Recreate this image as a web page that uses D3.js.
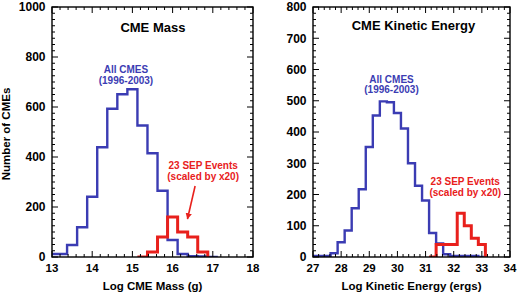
<!DOCTYPE html>
<html>
<head>
<meta charset="utf-8">
<script src="https://cdn.jsdelivr.net/npm/d3@7"></script>
<style>
    body { margin: 0; background: #fff; }
    svg text { font-family: "Liberation Sans", Arial, sans-serif; font-weight: bold; }
</style>
</head>
<body>
<div class="chart"></div>
<script>
// histogram bin centres (bin width 0.25) and counts
var massAllBins = [13.0, 13.25, 13.5, 13.75, 14.0, 14.25, 14.5, 14.75, 15.0, 15.25, 15.5, 15.75, 16.0, 16.25, 16.5, 16.75, 17.0];
var massAll     = [12, 12, 48, 119, 241, 439, 593, 651, 671, 526, 415, 265, 68, 12, 3, 2, 0];
var massSepBins = [15.25, 15.5, 15.75, 16.0, 16.25, 16.5, 16.75];
var massSep     = [0, 20, 80, 160, 100, 80, 20];

var energyAllBins = [27.0, 27.25, 27.5, 27.75, 28.0, 28.25, 28.5, 28.75, 29.0, 29.25, 29.5, 29.75, 30.0, 30.25, 30.5, 30.75, 31.0, 31.25, 31.5, 31.75, 32.0, 32.25, 32.5, 32.75, 33.0];
var energyAll     = [3, 3, 3, 12, 47, 85, 156, 217, 352, 453, 498, 495, 461, 411, 300, 228, 181, 77, 43, 9, 3, 3, 3, 3, 0];
var energySepBins = [31.25, 31.5, 31.75, 32.0, 32.25, 32.5, 32.75, 33.0];
var energySep     = [0, 40, 40, 40, 140, 100, 60, 40];

var massTicks = [13, 14, 15, 16, 17, 18];
var massCountTicks = [0, 200, 400, 600, 800, 1000];
var energyTicks = [27, 28, 29, 30, 31, 32, 33, 34];
var energyCountTicks = [0, 100, 200, 300, 400, 500, 600, 700, 800];

var binWidth = 0.25;
var blue = "#3b3cb3", red = "#e8201c";

var svg = d3.select(".chart")
    .append("svg")
    .attr("width", 520)
    .attr("height", 296);

svg.append("defs")
    .append("marker")
    .attr("id", "arrowhead")
    .attr("viewBox", "0 0 10 10")
    .attr("refX", 9)
    .attr("refY", 5)
    .attr("markerWidth", 4)
    .attr("markerHeight", 4)
    .attr("orient", "auto")
    .append("path")
    .attr("d", "M0,0L10,5L0,10z")
    .style("fill", red);

function panel(opt){
    var x = d3.scaleLinear().domain(opt.xDomain).range(opt.xRange);
    var y = d3.scaleLinear().domain(opt.yDomain).range([257, 7]);
    var g = svg.append("g");

    g.append("clipPath")
        .attr("id", opt.id)
        .append("rect")
        .attr("x", opt.xRange[0])
        .attr("y", 7)
        .attr("width", opt.xRange[1] - opt.xRange[0])
        .attr("height", 250);

    function stepPoints(bins, vals, dropToZero){
        var pts = bins.map(function(b, i){ return [b - binWidth/2, vals[i]]; });
        var last = bins.length - 1;
        pts.push([bins[last] + binWidth/2, vals[last]]);
        if(dropToZero) pts.push([bins[last] + binWidth/2, 0]);
        return pts;
    }

    var line = d3.line()
        .x(function(d){ return x(d[0]); })
        .y(function(d){ return y(d[1]); })
        .curve(d3.curveStepAfter);

    g.append("path")
        .attr("clip-path", "url(#" + opt.id + ")")
        .attr("d", line(stepPoints(opt.allBins, opt.all, false)))
        .style("fill", "none")
        .style("stroke", blue)
        .style("stroke-width", 2.4);

    g.append("path")
        .attr("clip-path", "url(#" + opt.id + ")")
        .attr("d", line(stepPoints(opt.sepBins, opt.sep, true)))
        .style("fill", "none")
        .style("stroke", red)
        .style("stroke-width", 3);

    // frame
    g.append("rect")
        .attr("x", opt.xRange[0])
        .attr("y", 7)
        .attr("width", opt.xRange[1] - opt.xRange[0])
        .attr("height", 250)
        .style("fill", "none")
        .style("stroke", "#000")
        .style("stroke-width", 1.4);

    // inward ticks on all four sides
    var xMinor = d3.range(opt.xDomain[0], opt.xDomain[1] + 1e-9, 0.2);
    var yMinor = d3.range(opt.yDomain[0], opt.yDomain[1] + 1e-9, opt.yMinorStep);
    var ticks = [];
    xMinor.forEach(function(v){
        var major = Math.abs(v - Math.round(v)) < 1e-6;
        ticks.push({x1: x(v), x2: x(v), y1: 257, y2: 257 - (major ? 6 : 3)});
        ticks.push({x1: x(v), x2: x(v), y1: 7, y2: 7 + (major ? 6 : 3)});
    });
    yMinor.forEach(function(v){
        var major = opt.yTicks.indexOf(Math.round(v)) >= 0;
        ticks.push({x1: opt.xRange[0], x2: opt.xRange[0] + (major ? 6 : 3), y1: y(v), y2: y(v)});
        ticks.push({x1: opt.xRange[1], x2: opt.xRange[1] - (major ? 6 : 3), y1: y(v), y2: y(v)});
    });
    g.selectAll(".tick")
        .data(ticks)
        .enter()
        .append("line")
        .attr("x1", function(d){ return d.x1; })
        .attr("x2", function(d){ return d.x2; })
        .attr("y1", function(d){ return d.y1; })
        .attr("y2", function(d){ return d.y2; })
        .style("stroke", "#000")
        .style("stroke-width", 1);

    g.selectAll(".xlab")
        .data(opt.xTicks)
        .enter()
        .append("text")
        .attr("x", function(d){ return x(d); })
        .attr("y", 272)
        .attr("text-anchor", "middle")
        .style("font-size", "11.5px")
        .text(function(d){ return d; });

    g.selectAll(".ylab")
        .data(opt.yTicks)
        .enter()
        .append("text")
        .attr("x", opt.xRange[0] - 6.5)
        .attr("y", function(d){ return y(d); })
        .attr("dy", "0.36em")
        .attr("text-anchor", "end")
        .style("font-size", "12px")
        .text(function(d){ return d; });

    g.append("text")
        .attr("x", x(opt.title[0]))
        .attr("y", y(opt.title[1]))
        .attr("text-anchor", "middle")
        .style("font-size", "13px")
        .text(opt.title[2]);

    g.append("text")
        .attr("x", (opt.xRange[0] + opt.xRange[1]) / 2)
        .attr("y", 290)
        .attr("text-anchor", "middle")
        .style("font-size", "11.5px")
        .text(opt.xTitle);

    var allLab = g.append("text")
        .attr("text-anchor", "middle")
        .style("font-size", "10px")
        .style("fill", blue);
    allLab.append("tspan").attr("x", x(opt.allLab[0])).attr("y", y(opt.allLab[1])).text("All CMES");
    allLab.append("tspan").attr("x", x(opt.allLab[0])).attr("y", y(opt.allLab[1]) + 10.5).text("(1996-2003)");

    var sepLab = g.append("text")
        .attr("text-anchor", "middle")
        .style("font-size", "10px")
        .style("fill", red);
    sepLab.append("tspan").attr("x", x(opt.sepLab[0])).attr("y", y(opt.sepLab[1])).text("23 SEP Events");
    sepLab.append("tspan").attr("x", x(opt.sepLab[0])).attr("y", y(opt.sepLab[1]) + 11).text("(scaled by x20)");

    if(opt.arrow){
        g.append("line")
            .attr("x1", x(opt.arrow[0]))
            .attr("y1", y(opt.arrow[1]))
            .attr("x2", x(opt.arrow[2]))
            .attr("y2", y(opt.arrow[3]))
            .style("stroke", red)
            .style("stroke-width", 1.6)
            .attr("marker-end", "url(#arrowhead)");
    }
    return {x: x, y: y};
}

panel({
    id: "clipMass",
    xDomain: [13, 18], xRange: [52, 253],
    yDomain: [0, 1000], yMinorStep: 25,
    xTicks: massTicks, yTicks: massCountTicks,
    allBins: massAllBins, all: massAll,
    sepBins: massSepBins, sep: massSep,
    title: [15.51, 900, "CME Mass"],
    xTitle: "Log CME Mass (g)",
    allLab: [14.84, 736],
    sepLab: [16.76, 352],
    arrow: [16.56, 284, 16.37, 152]
});

panel({
    id: "clipEnergy",
    xDomain: [27, 34], xRange: [313, 510],
    yDomain: [0, 800], yMinorStep: 20,
    xTicks: energyTicks, yTicks: energyCountTicks,
    allBins: energyAllBins, all: energyAll,
    sepBins: energySepBins, sep: energySep,
    title: [30.57, 726, "CME Kinetic Energy"],
    xTitle: "Log Kinetic Energy (ergs)",
    allLab: [29.79, 557],
    sepLab: [32.41, 230]
});

svg.append("text")
    .attr("transform", "translate(10,134) rotate(-90)")
    .attr("text-anchor", "middle")
    .style("font-size", "11.5px")
    .text("Number of CMEs");
</script>
</body>
</html>
